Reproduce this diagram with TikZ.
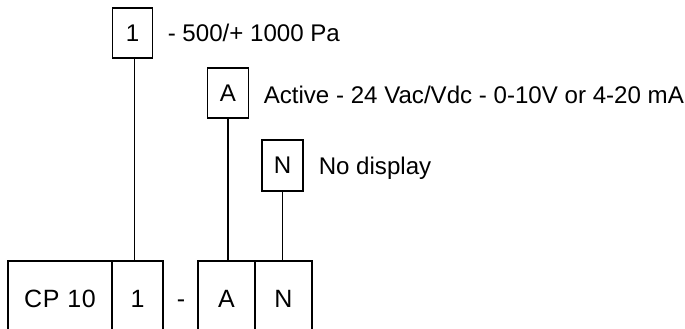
\documentclass[tikz,border=0pt]{standalone}
\usepackage{fontspec}
\setmainfont{Liberation Sans}
\newfontfamily\cellfont[LetterSpace=3]{Liberation Sans}
\begin{document}
\begin{tikzpicture}[x=1pt,y=-1pt, line width=1.5pt,
  lbl/.style={font=\fontsize{24.1}{28}\selectfont},
  celllbl/.style={font=\cellfont\fontsize{25}{28}\selectfont},
  topbox/.style={draw, lbl, minimum width=40pt, minimum height=50pt, inner sep=0pt},
  cell/.style={draw, celllbl, minimum height=76pt, inner sep=0pt},
  txt/.style={lbl, anchor=base west, inner sep=0pt}]
\path[use as bounding box] (0,0) rectangle (685,329);
\clip (0,0) rectangle (685,329);
% bottom code cells
\node[cell, minimum width=104pt] (b0) at (60,299) {CP 10};
\node[cell, minimum width=51pt] (b1) at (137.5,299) {1};
\node[celllbl, anchor=base, inner sep=0pt] (dash) at (181,307) {-};
\node[cell, minimum width=57pt] (bA) at (226.5,299) {A};
\node[cell, minimum width=57pt] (bN) at (283.5,299) {N};
% top option boxes
\node[topbox] (t1) at (132.5,33) {1};
\node[topbox, minimum width=41pt] (tA) at (227.8,93) {A};
\node[topbox, minimum width=41pt, minimum height=51pt] (tN) at (282.5,165.5) {N};
% descriptions
\node[txt] (l1) at (167,42) {- 500/+ 1000 Pa};
\node[txt] (lA) at (263,103) {Active - 24 Vac/Vdc - 0-10V or 4-20 mA};
\node[txt] (lN) at (318,174.5) {No display};
% connectors
\coordinate (c1) at ([xshift=2pt]t1.south);
\draw (c1) -- (c1 |- b1.north);
\draw (tA.south) -- (tA.south |- bA.north);
\draw (tN.south) -- (tN.south |- bN.north);
\end{tikzpicture}
\end{document}
